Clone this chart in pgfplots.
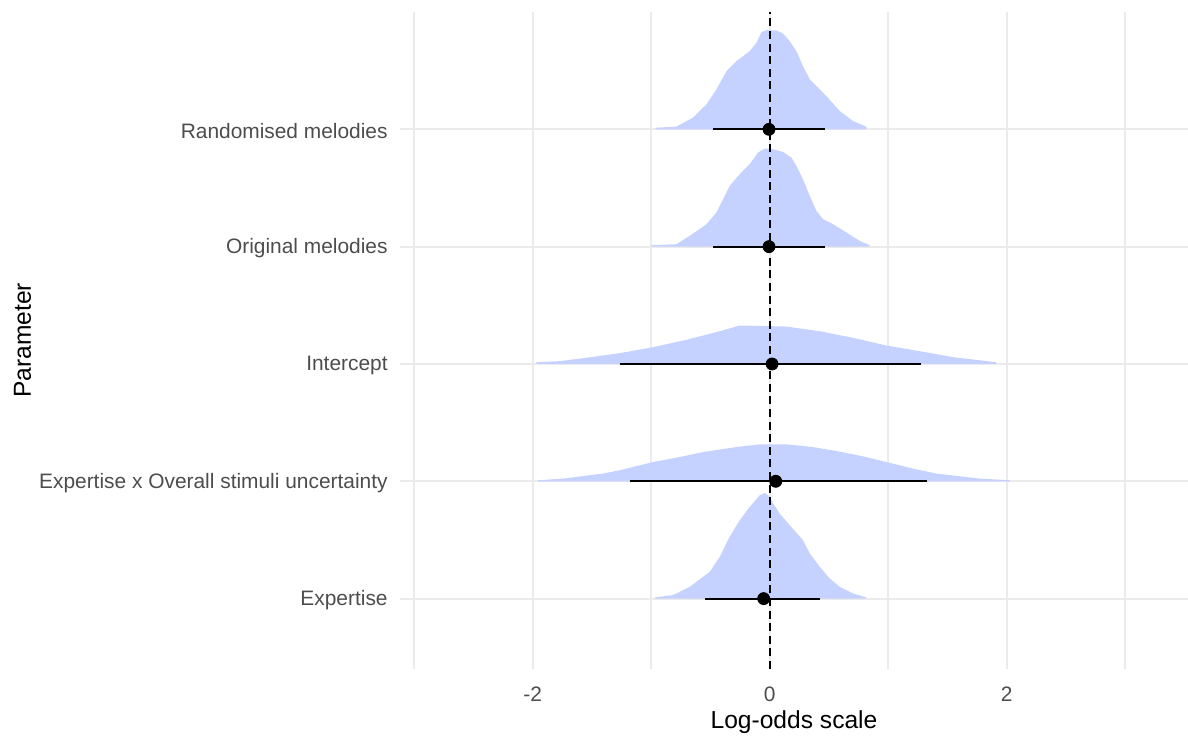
\documentclass[border=0pt]{standalone}
\usepackage{pgfplots}
\pgfplotsset{compat=1.18}
\usepackage{pgfplotstable}
\usepackage{fontspec}
\setmainfont{Liberation Sans}
\definecolor{ridge}{RGB}{197,210,255}
\definecolor{gridc}{RGB}{235,235,235}
\definecolor{tickc}{RGB}{77,77,77}

% density ridges: x and height above the category baseline
\pgfplotstableread{
x h
-0.962 0
-0.962 0.014
-0.787 0.023
-0.647 0.100
-0.534 0.213
-0.450 0.340
-0.365 0.496
-0.281 0.581
-0.169 0.666
-0.112 0.738
-0.070 0.828
-0.028 0.845
0.057 0.843
0.112 0.817
0.169 0.751
0.225 0.666
0.281 0.539
0.338 0.426
0.394 0.369
0.478 0.283
0.591 0.156
0.703 0.071
0.816 0.023
0.816 0
}\randomised

\pgfplotstableread{
x h
-0.998 0
-0.998 0.013
-0.787 0.021
-0.675 0.092
-0.534 0.191
-0.450 0.291
-0.394 0.404
-0.338 0.517
-0.253 0.617
-0.169 0.702
-0.099 0.802
-0.042 0.836
0.028 0.830
0.112 0.807
0.183 0.759
0.225 0.688
0.281 0.574
0.338 0.432
0.394 0.305
0.450 0.234
0.534 0.191
0.647 0.121
0.759 0.049
0.844 0.013
0.844 0
}\original

\pgfplotstableread{
x h
-1.969 0
-1.969 0.015
-1.772 0.024
-1.547 0.053
-1.266 0.092
-0.985 0.143
-0.703 0.206
-0.422 0.279
-0.253 0.328
0.141 0.319
0.422 0.279
0.703 0.223
0.985 0.157
1.266 0.109
1.547 0.058
1.913 0.015
1.913 0
}\intercept

\pgfplotstableread{
x h
-1.955 0
-1.955 0.009
-1.744 0.023
-1.407 0.066
-1.266 0.094
-0.985 0.164
-0.759 0.207
-0.563 0.249
-0.281 0.292
-0.084 0.315
0.141 0.315
0.365 0.292
0.563 0.258
0.787 0.213
0.985 0.164
1.209 0.108
1.407 0.066
1.772 0.023
2.025 0.009
2.025 0
}\interaction

\pgfplotstableread{
x h
-0.970 0
-0.970 0.010
-0.816 0.030
-0.675 0.100
-0.506 0.228
-0.422 0.356
-0.338 0.526
-0.253 0.668
-0.169 0.781
-0.084 0.881
-0.042 0.900
-0.014 0.881
0.084 0.725
0.169 0.626
0.281 0.498
0.338 0.385
0.422 0.271
0.506 0.172
0.591 0.100
0.703 0.044
0.816 0.010
0.816 0
}\expertise

\begin{document}
\begin{tikzpicture}
\useasboundingbox (-200pt,-33pt) rectangle (394pt,334.5pt);
\begin{axis}[
  at={(0,0)}, anchor=south west,
  scale only axis,
  width=394pt, height=328.5pt,
  xmin=-3.12, xmax=3.53,
  ymin=0.4, ymax=6.0,
  xtick={-2,0,2},
  xticklabels={-2,0,2},
  minor xtick={-3,-1,1,3},
  ytick={1,2,3,4,5},
  yticklabels={Expertise, Expertise x Overall stimuli uncertainty, Intercept, Original melodies, Randomised melodies},
  xmajorgrids, xminorgrids, ymajorgrids,
  major grid style={draw=gridc, line width=1pt},
  minor grid style={draw=gridc, line width=1pt},
  axis line style={draw=none},
  tick style={draw=none},
  xticklabel style={inner sep=0pt, anchor=north, yshift=-8.8pt, font=\fontsize{10.45}{12}\selectfont, text=tickc},
  yticklabel style={inner sep=0pt, anchor=east, xshift=-6pt, yshift=-0.8pt, font=\fontsize{10.45}{12}\selectfont, text=tickc},
  xlabel={Log-odds scale},
  ylabel={Parameter},
  every axis x label/.style={at={(axis description cs:0.5,-0.0898)}, anchor=base, font=\fontsize{12.3}{14}\selectfont},
  every axis y label/.style={at={(axis description cs:-0.4683,0.5)}, rotate=90, anchor=base, font=\fontsize{12.3}{14}\selectfont},
  clip=false,
]
\addplot[fill=ridge, draw=none] table[x=x, y expr=\thisrow{h}+5] {\randomised};
\addplot[fill=ridge, draw=none] table[x=x, y expr=\thisrow{h}+4] {\original};
\addplot[fill=ridge, draw=none] table[x=x, y expr=\thisrow{h}+3] {\intercept};
\addplot[fill=ridge, draw=none] table[x=x, y expr=\thisrow{h}+2] {\interaction};
\addplot[fill=ridge, draw=none] table[x=x, y expr=\thisrow{h}+1] {\expertise};
% intervals
\addplot[black, line width=1pt] coordinates {(-0.478,5) (0.464,5)};
\addplot[black, line width=1pt] coordinates {(-0.478,4) (0.464,4)};
\addplot[black, line width=1pt] coordinates {(-1.266,3) (1.280,3)};
\addplot[black, line width=1pt] coordinates {(-1.181,2) (1.328,2)};
\addplot[black, line width=1pt] coordinates {(-0.549,1) (0.422,1)};
% point estimates
\addplot[only marks, mark=*, mark size=3pt, black] coordinates {(-0.006,5) (-0.006,4) (0.020,3) (0.051,2) (-0.051,1)};
% reference line
\addplot[black, line width=0.8pt, dash pattern=on 4pt off 2.3pt] coordinates {(0,0.4) (0,6.0)};
\end{axis}
\end{tikzpicture}
\end{document}
